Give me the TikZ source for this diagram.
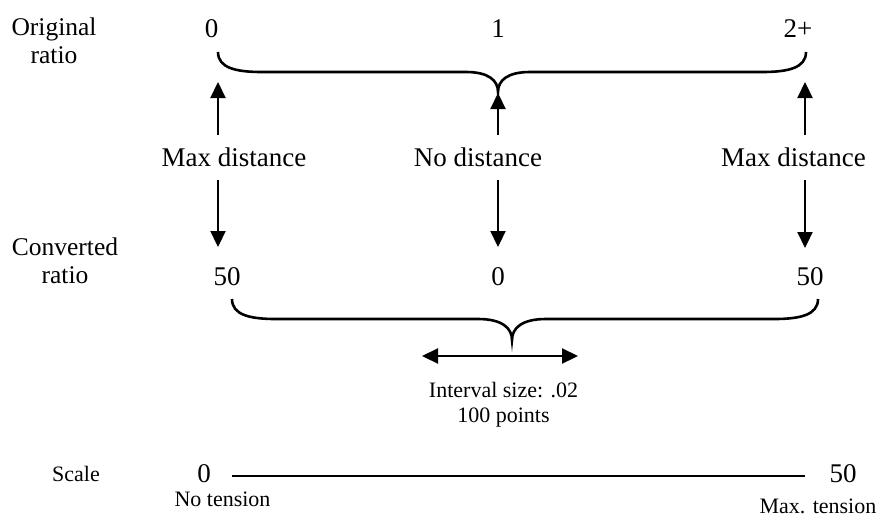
\documentclass[tikz,border=0pt]{standalone}
\usepackage{fontspec}
\setmainfont{Liberation Serif}
\usetikzlibrary{arrows.meta}
\tikzset{
  txt/.style={inner sep=0pt, font=\fontsize{27}{31}\selectfont},
  rowlbl/.style={align=center, inner sep=0pt, font=\fontsize{25.5}{27.5}\selectfont},
  small/.style={align=center, inner sep=0pt, font=\fontsize{22}{25}\selectfont},
  dist/.style={txt, text height=18pt, text depth=0pt, inner ysep=13.5pt},
  arr/.style={line width=2.2pt, -{Triangle[length=16pt,width=15pt]}},
  twoarr/.style={line width=2.2pt, {Triangle[length=16pt,width=15pt]}-{Triangle[length=16pt,width=15pt]}},
  brace/.style={line width=2.6pt},
  scaleline/.style={line width=2.2pt},
}
\begin{document}
\begin{tikzpicture}[x=1pt,y=-1pt]
  \useasboundingbox (0,0) rectangle (878,517);
  % row labels
  \node[rowlbl] (orig) at (54,41) {Original\\ratio};
  \node[rowlbl] (conv) at (65,261) {Converted\\ratio};
  \node[small,anchor=base] (scale) at (76,481) {Scale};
  % original ratio
  \node[txt,anchor=base] (o0) at (211.5,37) {0};
  \node[txt,anchor=base] (o1) at (498,37) {1};
  \node[txt,anchor=base] (o2) at (798,37) {2+};
  \draw[brace] (218,52) .. controls (218,68) and (236,72) .. (262,72) -- (466,72)
    .. controls (488,72) and (498,80) .. (498,92)
    .. controls (498,80) and (508,72) .. (530,72) -- (762,72)
    .. controls (788,72) and (806,68) .. (806,52);
  % distances
  \node[dist,anchor=base] (mdL) at (234,166.5) {Max distance};
  \node[dist,anchor=base] (nd) at (478,166.5) {No distance};
  \node[dist,anchor=base] (mdR) at (793.5,166.5) {Max distance};
  \coordinate (upL) at (218,82);
  \coordinate (upM) at (498,93);
  \coordinate (upR) at (805,82);
  \coordinate (dnL) at (218,247);
  \coordinate (dnM) at (498,247);
  \coordinate (dnR) at (805,248);
  \draw[arr] (mdL.north -| upL) -- (upL);
  \draw[arr] (nd.north -| upM) -- (upM);
  \draw[arr] (mdR.north -| upR) -- (upR);
  \draw[arr] (mdL.south -| dnL) -- (dnL);
  \draw[arr] (nd.south -| dnM) -- (dnM);
  \draw[arr] (mdR.south -| dnR) -- (dnR);
  % converted ratio
  \node[txt,anchor=base] (c0) at (227,285) {50};
  \node[txt,anchor=base] (c1) at (498,285) {0};
  \node[txt,anchor=base] (c2) at (810,285) {50};
  \draw[brace] (232,299) .. controls (232,315) and (250,319) .. (276,319) -- (478,319)
    .. controls (502,319) and (512,328) .. (512,340)
    .. controls (512,328) and (522,319) .. (546,319) -- (774,319)
    .. controls (800,319) and (818,315) .. (818,299);
  % interval
  \coordinate (ivL) at (422,356);
  \coordinate (ivR) at (578,356);
  \draw[twoarr] (ivL) -- (ivR);
  \node[small] (iv) at (503.5,404.5) {Interval size: .02\\100 points};
  % scale
  \node[txt,anchor=base] (s0) at (204,482) {0};
  \node[txt,anchor=base] (s50) at (843,482) {50};
  \coordinate (sL) at (232,476);
  \coordinate (sR) at (805,476);
  \draw[scaleline] (sL) -- (sR);
  \node[small,anchor=base] (nt) at (222.5,506) {No tension};
  \node[small,anchor=base] (mt) at (818,513) {Max. tension};
\end{tikzpicture}
\end{document}
